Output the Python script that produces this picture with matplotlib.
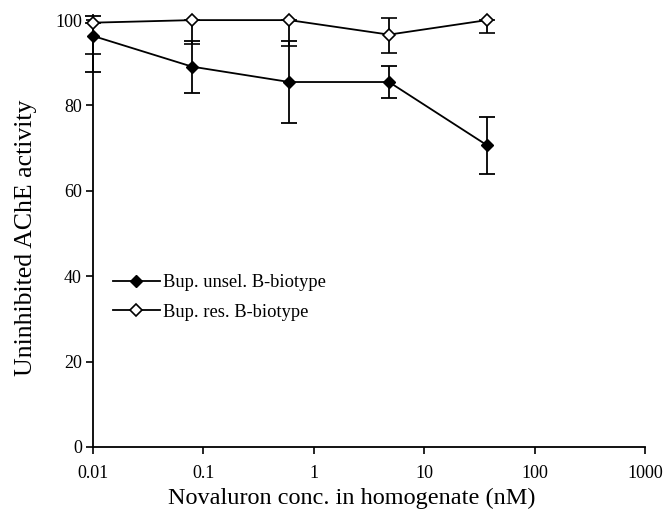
import numpy as np
import matplotlib
matplotlib.use("Agg")
import matplotlib.pyplot as plt
from matplotlib.lines import Line2D

plt.rcParams["font.family"] = ["Liberation Serif", "DejaVu Serif"]

# x positions as drawn (points sit a bit left of the decade ticks)
conc = [0.01, 0.079, 0.6, 4.8, 37]

unsel = [96.3, 89.1, 85.5, 85.5, 70.7]
unsel_lo = [8.5, 6.2, 9.6, 3.8, 6.8]
unsel_hi = [4.6, 6.1, 9.6, 3.8, 6.6]

res = [99.4, 100.0, 100.0, 96.6, 100.0]
res_lo = [7.4, 5.7, 6.0, 4.2, 3.0]
res_hi = [0, 0, 0, 4.0, 0]

xticks = [0.01, 0.1, 1, 10, 100, 1000]
xticklabels = ["0.01", "0.1", "1", "10", "100", "1000"]
yticks = [0, 20, 40, 60, 80, 100]

fig = plt.figure(figsize=(6.67, 5.17), dpi=100)
ax = fig.add_axes([0.1394, 0.1354, 0.8276, 0.8356])

e1 = ax.errorbar(conc, unsel, yerr=[unsel_lo, unsel_hi], color="black", lw=1.3,
                 marker="D", ms=6, mfc="black", mec="black", capsize=6,
                 elinewidth=1.3, capthick=1.3, zorder=2)
e2 = ax.errorbar(conc, res, yerr=[res_lo, res_hi], color="black", lw=1.3,
                 marker="D", ms=6, mfc="white", mec="black", mew=1.2, capsize=6,
                 elinewidth=1.3, capthick=1.3, zorder=3)
for e in (e1, e2):
    e[0].set_clip_on(False)
    for c in e[1]:
        c.set_clip_on(False)
    for b in e[2]:
        b.set_clip_on(False)

ax.set_xscale("log")
ax.set_xlim(0.01, 1000)
ax.set_ylim(0, 101.2)
ax.set_xticks(xticks)
ax.set_xticklabels(xticklabels)
ax.minorticks_off()
ax.set_yticks(yticks)

for s in ["top", "right"]:
    ax.spines[s].set_visible(False)
for s in ["left", "bottom"]:
    ax.spines[s].set_linewidth(1.3)
ax.tick_params(direction="out", length=5, width=1.2, labelsize=13)
ax.tick_params(axis="x", pad=8)
ax.tick_params(axis="y", pad=3)

ax.set_xlabel("Novaluron conc. in homogenate (nM)", fontsize=17.5)
ax.xaxis.set_label_coords(0.469, -0.095)
ax.set_ylabel("Uninhibited AChE activity", fontsize=18.5)
ax.yaxis.set_label_coords(-0.101, 0.484)

handles = [
    Line2D([], [], color="black", lw=1.3, marker="D", ms=6, mfc="black", mec="black"),
    Line2D([], [], color="black", lw=1.3, marker="D", ms=6, mfc="white", mec="black", mew=1.2),
]
labels = ["Bup. unsel. B-biotype", "Bup. res. B-biotype"]
ax.legend(handles, labels, loc="upper left", bbox_to_anchor=(0.036, 0.40), frameon=False,
          borderaxespad=0, borderpad=0, fontsize=13.3, handlelength=2.55,
          handletextpad=0.15, labelspacing=0.68)

fig.savefig("out.png", dpi=100)
